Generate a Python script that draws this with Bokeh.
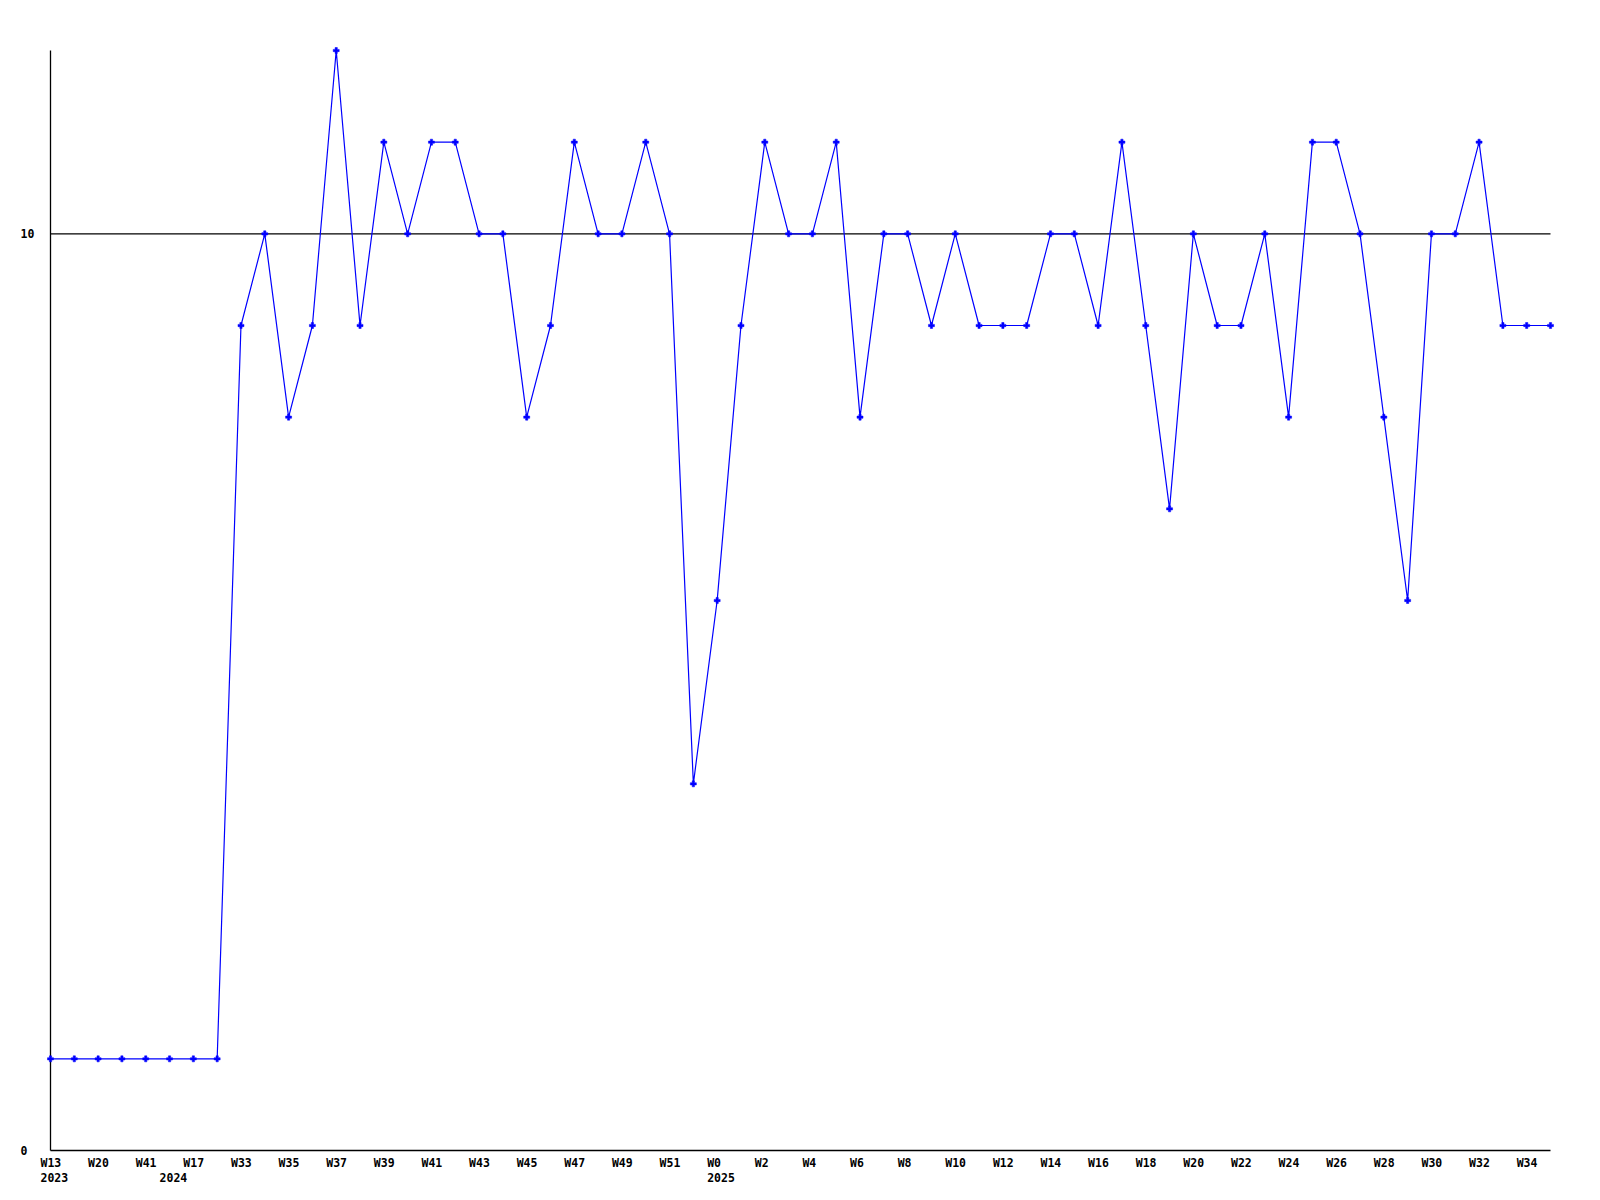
from bokeh.plotting import figure
from bokeh.models import Range1d
from bokeh.core.properties import value
from bokeh.embed import file_html
from bokeh.resources import INLINE

# ---- data ----
values = [1, 1, 1, 1, 1, 1, 1, 1,
          9, 10, 8, 9, 12, 9, 11, 10, 11, 11, 10, 10, 8, 9, 11, 10, 10, 11, 10, 4,
          6, 9, 11, 10, 10, 11, 8, 10, 10, 9, 10, 9, 9, 9, 10, 10, 9, 11, 9, 7,
          10, 9, 9, 10, 8, 11, 11, 10, 8, 6, 10, 10, 11, 9, 9, 9]
week_labels = ["W13", "W20", "W41", "W17", "W33", "W35", "W37", "W39", "W41", "W43",
               "W45", "W47", "W49", "W51", "W0", "W2", "W4", "W6", "W8", "W10",
               "W12", "W14", "W16", "W18", "W20", "W22", "W24", "W26", "W28", "W30",
               "W32", "W34"]
year_labels = ["2023", "2024", "2025"]
year_start_index = [0, 5, 28]
y_tick_values = [0, 10]
y_tick_labels = ["0", "10"]
reference_level = 10
y_max = 12

n = len(values)
xs = list(range(n))

# ---- layout (pixels) ----
W, H = 1600, 1200
left, right, top, bottom = 50, 50, 50, 50
plot_w = W - left - right
plot_h = H - top - bottom
ppx = plot_w / (n - 1)      # px per x unit
ppy = plot_h / y_max        # px per y unit

p = figure(width=W, height=H, output_backend="svg", toolbar_location=None,
           x_axis_type=None, y_axis_type=None,
           x_range=Range1d(-left / ppx, (n - 1) + right / ppx),
           y_range=Range1d(-bottom / ppy, y_max + top / ppy),
           min_border=0, min_border_left=0, min_border_right=0,
           min_border_top=0, min_border_bottom=0)
p.outline_line_color = None
p.xgrid.visible = False
p.ygrid.visible = False
p.background_fill_color = "white"
p.border_fill_color = "white"

# axis lines and reference line
p.segment(x0=[0, 0, 0], y0=[0, 0, reference_level],
          x1=[n - 1, 0, n - 1], y1=[0, y_max, reference_level],
          line_color="black", line_width=1.3)

p.line(xs, values, line_color="#0000ff", line_width=1.2)
p.scatter(xs, values, marker="plus", size=6, fill_color="#0000ff",
          line_color="#0000ff", line_width=0.5)

font = value("DejaVu Sans Mono")
fsize = value("11.5px")

wk_x = xs[::2][:len(week_labels)]
p.text(x=wk_x, y=[-12 / ppy] * len(week_labels), text=week_labels,
       x_offset=-10, text_align="left", text_baseline="middle",
       text_font=font, text_font_style="bold", text_font_size=fsize, text_color="black")

p.text(x=year_start_index, y=[-27 / ppy] * len(year_labels), text=year_labels,
       x_offset=-10, text_align="left", text_baseline="middle",
       text_font=font, text_font_style="bold", text_font_size=fsize, text_color="black")

p.text(x=[0] * len(y_tick_values), y=y_tick_values, text=y_tick_labels,
       x_offset=-30, text_align="left", text_baseline="middle",
       text_font=font, text_font_style="bold", text_font_size=fsize, text_color="black")

open("out.html", "w").write(file_html(p, INLINE))
